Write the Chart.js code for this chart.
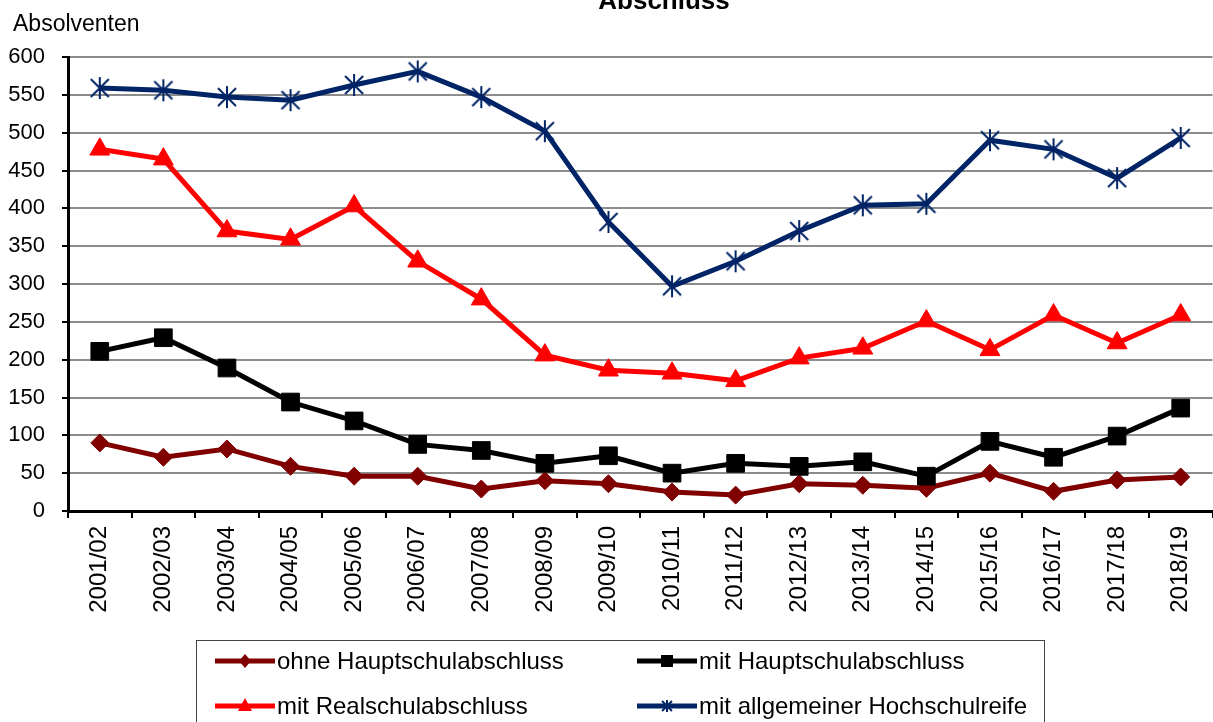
<!DOCTYPE html>
<html>
<head>
<meta charset="utf-8">
<script src="https://cdn.jsdelivr.net/npm/chart.js@4/dist/chart.umd.min.js"></script>
<style>
  html, body { margin: 0; padding: 0; background: #fff; overflow: hidden; }
  #wrap { width: 1213px; height: 722px; overflow: hidden; position: relative; }
  canvas { display: block; }
</style>
</head>
<body>
<div id="wrap"><canvas id="c" width="1226" height="722"></canvas></div>
<script>
const categories = ["2001/02","2002/03","2003/04","2004/05","2005/06","2006/07","2007/08","2008/09","2009/10","2010/11","2011/12","2012/13","2013/14","2014/15","2015/16","2016/17","2017/18","2018/19"];
const ohneHauptschul = [90, 71, 82, 59, 46, 46, 29, 40, 36, 25, 21, 36, 34, 30, 50, 26, 41, 45];
const mitHauptschul = [211, 229, 189, 144, 119, 88, 80, 63, 73, 50, 63, 59, 65, 46, 92, 71, 99, 136];
const mitRealschul = [478, 465, 370, 359, 403, 330, 280, 206, 186, 182, 172, 202, 215, 251, 213, 259, 222, 259];
const mitHochschulreife = [559, 556, 547, 543, 563, 581, 547, 502, 382, 297, 330, 370, 404, 406, 490, 478, 440, 493];
const seriesNames = ["ohne Hauptschulabschluss", "mit Hauptschulabschluss", "mit Realschulabschluss", "mit allgemeiner Hochschulreife"];
const yTicks = [0, 50, 100, 150, 200, 250, 300, 350, 400, 450, 500, 550, 600];
const titleText = "Abschluss";
const yAxisTitle = "Absolventen";

const FONT = "Arial, 'Liberation Sans', sans-serif";
const C_DARKRED = "#800000";
const C_BLACK = "#000000";
const C_RED = "#ff0000";
const C_NAVY = "#002466";

function makeStar(size, color) {
  const cv = document.createElement('canvas');
  cv.width = size; cv.height = size;
  const g = cv.getContext('2d');
  g.strokeStyle = color; g.lineWidth = 2; g.lineCap = 'butt';
  const m = size / 2, r = size / 2 - 1;
  g.beginPath();
  g.moveTo(m, m - r); g.lineTo(m, m + r);
  const d = r * 0.82;
  g.moveTo(m - d, m - d); g.lineTo(m + d, m + d);
  g.moveTo(m + d, m - d); g.lineTo(m - d, m + d);
  g.stroke();
  return cv;
}
const starBig = makeStar(24, C_NAVY);
const starSmall = makeStar(14, C_NAVY);

const overlay = {
  id: 'overlay',
  afterDraw(chart) {
    const ctx = chart.ctx;
    ctx.save();
    ctx.fillStyle = '#000';
    ctx.font = "bold 26px " + FONT;
    ctx.textAlign = 'center';
    ctx.textBaseline = 'alphabetic';
    ctx.fillText(titleText, 664, 9);
    ctx.font = "23px " + FONT;
    ctx.textAlign = 'left';
    ctx.fillText(yAxisTitle, 13, 31);
    ctx.strokeStyle = '#444';
    ctx.lineWidth = 1;
    ctx.strokeRect(196.5, 640.5, 848, 100);
    const items = [
      {x: 215, y: 661, color: C_DARKRED, style: 'diamond', name: seriesNames[0]},
      {x: 637, y: 661, color: C_BLACK, style: 'square', name: seriesNames[1]},
      {x: 215, y: 706, color: C_RED, style: 'triangle', name: seriesNames[2]},
      {x: 637, y: 706, color: C_NAVY, style: 'star', name: seriesNames[3]}
    ];
    ctx.font = "24px " + FONT;
    ctx.textBaseline = 'middle';
    items.forEach(it => {
      ctx.strokeStyle = it.color;
      ctx.lineWidth = 5;
      ctx.beginPath();
      ctx.moveTo(it.x, it.y); ctx.lineTo(it.x + 60, it.y);
      ctx.stroke();
      const cx = it.x + 30, cy = it.y;
      ctx.fillStyle = it.color;
      ctx.beginPath();
      if (it.style === 'diamond') {
        ctx.moveTo(cx, cy - 7); ctx.lineTo(cx + 6, cy); ctx.lineTo(cx, cy + 7); ctx.lineTo(cx - 6, cy); ctx.closePath(); ctx.fill();
      } else if (it.style === 'square') {
        ctx.rect(cx - 6, cy - 6, 12, 12); ctx.fill();
      } else if (it.style === 'triangle') {
        ctx.moveTo(cx, cy - 8); ctx.lineTo(cx + 7, cy + 5); ctx.lineTo(cx - 7, cy + 5); ctx.closePath(); ctx.fill();
      } else {
        ctx.drawImage(starSmall, cx - 7, cy - 7);
      }
      ctx.fillStyle = '#000';
      ctx.fillText(it.name, it.x + 62, it.y + 1);
    });
    ctx.restore();
  }
};

const mk = (label, data, color, pointStyle, radius) => ({
  label, data,
  borderColor: color,
  backgroundColor: color,
  borderWidth: 5,
  pointStyle,
  pointRadius: radius,
  pointHoverRadius: radius,
  pointBorderWidth: 1,
  pointBorderColor: color,
  pointBackgroundColor: color,
  tension: 0,
  fill: false
});

new Chart(document.getElementById('c'), {
  type: 'line',
  data: {
    labels: categories,
    datasets: [
      mk(seriesNames[3], mitHochschulreife, C_NAVY, starBig, 12),
      mk(seriesNames[2], mitRealschul, C_RED, 'triangle', 11.5),
      mk(seriesNames[1], mitHauptschul, C_BLACK, 'rect', 12.5),
      mk(seriesNames[0], ohneHauptschul, C_DARKRED, 'rectRot', 9)
    ]
  },
  options: {
    responsive: false,
    animation: false,
    devicePixelRatio: 1,
    layout: { padding: { top: 57, right: 1, left: 0, bottom: 0 } },
    plugins: { legend: { display: false }, title: { display: false }, tooltip: { enabled: false } },
    scales: {
      x: {
        type: 'category',
        offset: true,
        grid: { offset: true, drawOnChartArea: false, drawTicks: true, tickLength: 7, color: '#000', lineWidth: 2 },
        border: { color: '#000', width: 3 },
        ticks: { minRotation: 90, maxRotation: 90, autoSkip: false, color: '#000', font: { family: FONT, size: 24 }, padding: 8 },
        afterFit(s) { s.height = 211; }
      },
      y: {
        min: 0, max: 600,
        afterBuildTicks(s) { s.ticks = yTicks.map(v => ({ value: v })); },
        grid: { color: '#8c8c8c', lineWidth: 2, tickColor: '#000', tickLength: 6, drawTicks: true },
        border: { color: '#000', width: 3 },
        ticks: { color: '#000', font: { family: FONT, size: 22 }, padding: 17 },
        afterFit(s) { s.width = 68; }
      }
    }
  },
  plugins: [overlay]
});
</script>
</body>
</html>
